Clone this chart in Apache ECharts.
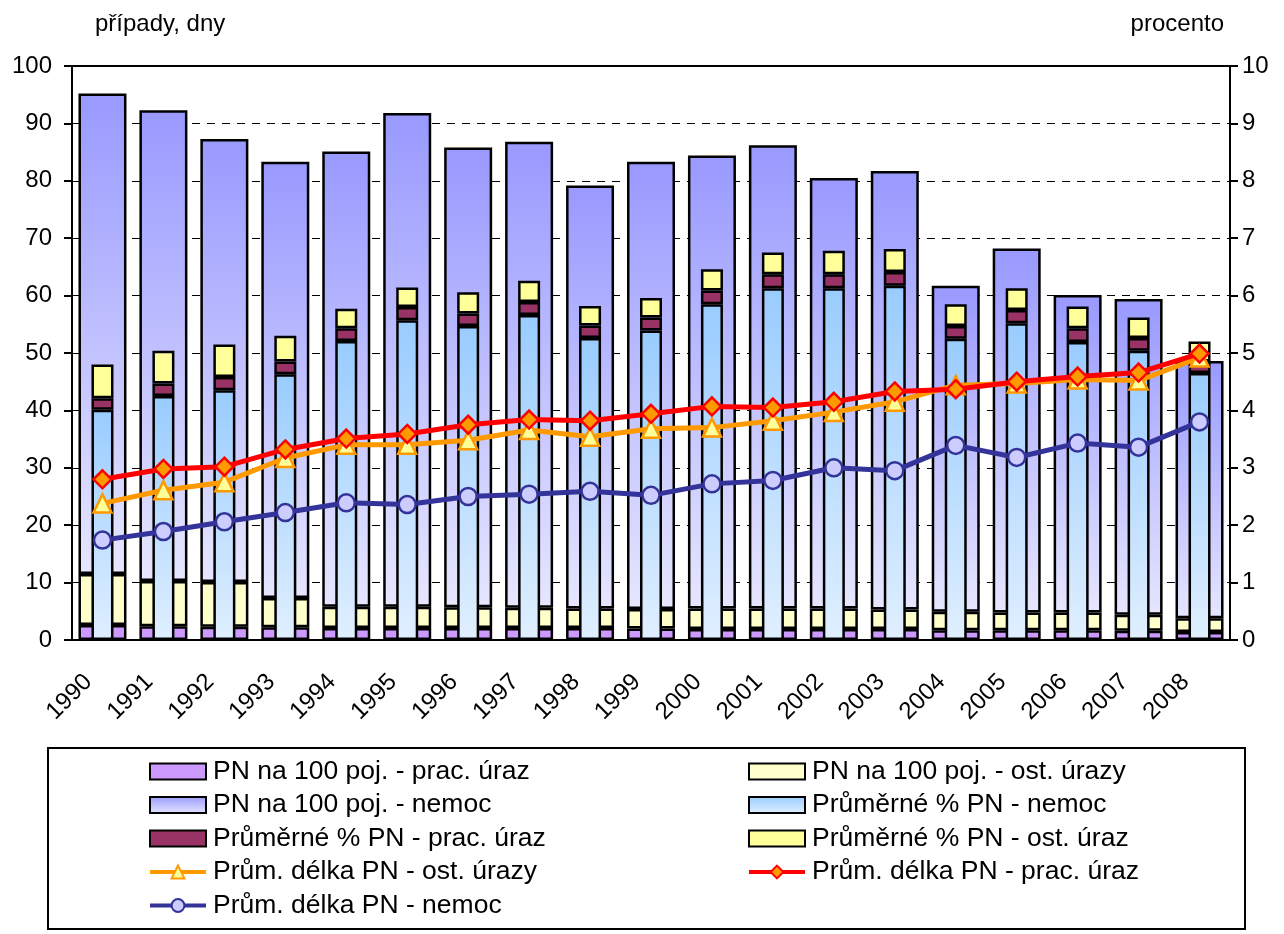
<!DOCTYPE html>
<html>
<head>
<meta charset="utf-8">
<script src="https://cdn.jsdelivr.net/npm/echarts@6/dist/echarts.min.js"></script>
<style>
html,body{margin:0;padding:0;background:#fff;}
#c{width:1284px;height:934px;}
</style>
</head>
<body>
<div id="c"></div>
<script>
// ---- data ----
const years = ['1990','1991','1992','1993','1994','1995','1996','1997','1998','1999','2000','2001','2002','2003','2004','2005','2006','2007','2008'];
// PN na 100 pojištěnců (left axis, stacked segments)
const pnPracUraz = [2.6,2.4,2.3,2.2,2.1,2.1,2.1,2.1,2.1,2.0,1.9,1.9,1.9,1.9,1.7,1.7,1.7,1.6,1.4];
const pnOstUrazy = [8.9,7.9,7.8,5.1,3.7,3.7,3.6,3.5,3.4,3.4,3.6,3.6,3.6,3.4,3.2,3.1,3.1,2.8,2.4];
const pnNemoc    = [83.7,82.0,77.2,76.0,79.3,86.0,80.1,81.2,73.7,77.9,78.9,80.7,75.0,76.4,56.8,63.4,55.3,55.0,44.8];
// Průměrné % PN (right axis, stacked segments)
const pctNemoc    = [4.01,4.25,4.35,4.63,5.21,5.57,5.47,5.66,5.26,5.39,5.85,6.13,6.13,6.17,5.25,5.52,5.19,5.04,4.65];
const pctPracUraz = [0.20,0.22,0.23,0.22,0.22,0.23,0.22,0.23,0.22,0.23,0.24,0.24,0.24,0.24,0.22,0.23,0.24,0.22,0.20];
const pctOstUraz  = [0.59,0.57,0.57,0.45,0.34,0.34,0.37,0.37,0.34,0.34,0.37,0.38,0.41,0.40,0.38,0.38,0.38,0.36,0.35];
// Průměrná délka PN (left axis, days)
const delkaOstUrazy  = [23.8,26.1,27.5,31.7,34.0,34.0,34.8,36.6,35.4,36.8,37.0,38.2,39.7,41.5,44.4,44.7,45.4,45.2,49.2];
const delkaPracUraz  = [28.0,29.8,30.2,33.2,35.1,35.9,37.5,38.4,38.2,39.4,40.7,40.5,41.5,43.3,43.7,45.0,45.9,46.6,49.9];
const delkaNemoc     = [17.4,18.9,20.6,22.2,23.9,23.6,25.0,25.4,25.9,25.2,27.2,27.8,30.0,29.5,33.9,31.8,34.3,33.6,38.0];
const leftTicks = {min:0, max:100, interval:10};
const rightTicks = {min:0, max:10, interval:1};

const FONT = 'Liberation Sans, Arial, sans-serif';
const chart = echarts.init(document.getElementById('c'), null, {renderer:'canvas'});
const grad = (a,b) => new echarts.graphic.LinearGradient(0,0,0,1,[{offset:0,color:a},{offset:1,color:b}]);
const barBorder = {borderColor:'#000', borderWidth:2.5};

const N = {
  s1:'PN na 100 poj. - prac. úraz', s2:'PN na 100 poj. - ost. úrazy', s3:'PN na 100 poj. - nemoc',
  s4:'Průměrné % PN - nemoc', s5:'Průměrné % PN - prac. úraz', s6:'Průměrné % PN - ost. úraz',
  s7:'Prům. délka PN - ost. úrazy', s8:'Prům. délka PN - prac. úraz', s9:'Prům. délka PN - nemoc'
};
const barItem = n => ({name:n, icon:'rect'});

const legendBase = {
  orient:'vertical', itemWidth:56, itemHeight:16, itemGap:6.5, padding:0,
  textStyle:{fontFamily:FONT, fontSize:26.5, color:'#000', lineHeight:26, padding:[0,0,0,2]},
  lineStyle:{width:4},
  selectedMode:false, top:758
};

chart.setOption({
  animation:false,
  backgroundColor:'#fff',
  textStyle:{fontFamily:FONT},
  grid:{left:72, right:54, top:66, bottom:294, show:true, borderColor:'#000', borderWidth:2, containLabel:false},
  graphic:[
    {type:'text', left:95, top:12, style:{text:'případy, dny', font:'24px '+FONT, fill:'#000'}},
    {type:'text', right:60, top:12, style:{text:'procento', font:'24px '+FONT, fill:'#000'}},
    {type:'rect', shape:{x:48, y:748, width:1197, height:181}, style:{fill:'none', stroke:'#000', lineWidth:2}, z:-1}
  ],
  legend:[
    Object.assign({}, legendBase, {left:148, data:[barItem(N.s1),barItem(N.s3),barItem(N.s5),N.s7,N.s9]}),
    Object.assign({}, legendBase, {left:747, data:[barItem(N.s2),barItem(N.s4),barItem(N.s6),N.s8]})
  ],
  xAxis:[
    {type:'category', data:years, gridIndex:0,
     axisLine:{lineStyle:{color:'#000', width:2}},
     axisTick:{length:8, lineStyle:{color:'#000', width:2}},
     axisLabel:{interval:0, rotate:45, fontSize:24, color:'#000', fontFamily:FONT, margin:24, padding:[0,20,0,0]}},
    {type:'category', data:years, gridIndex:0, show:false}
  ],
  yAxis:[
    {type:'value', min:leftTicks.min, max:leftTicks.max, interval:leftTicks.interval,
     axisLine:{show:true, lineStyle:{color:'#000', width:2}},
     axisTick:{show:true, length:8, lineStyle:{color:'#000', width:2}},
     axisLabel:{fontSize:24, color:'#000', fontFamily:FONT, margin:20},
     splitLine:{show:true, lineStyle:{color:'#000', width:1, type:[8,7]}}},
    {type:'value', min:rightTicks.min, max:rightTicks.max, interval:rightTicks.interval, position:'right',
     axisLine:{show:true, lineStyle:{color:'#000', width:2}},
     axisTick:{show:true, length:8, lineStyle:{color:'#000', width:2}},
     axisLabel:{fontSize:24, color:'#000', fontFamily:FONT, margin:12},
     splitLine:{show:false}}
  ],
  series:[
    {name:N.s1, type:'bar', stack:'pn', xAxisIndex:0, yAxisIndex:0, barWidth:48, z:2, data:pnPracUraz,
     itemStyle:Object.assign({color:'#CC99FF'}, barBorder)},
    {name:N.s2, type:'bar', stack:'pn', xAxisIndex:0, yAxisIndex:0, barWidth:48, z:2, data:pnOstUrazy,
     itemStyle:Object.assign({color:'#FFFFCC'}, barBorder)},
    {name:N.s3, type:'bar', stack:'pn', xAxisIndex:0, yAxisIndex:0, barWidth:48, z:2, data:pnNemoc,
     itemStyle:Object.assign({color:grad('#9999FF','#E6E6FF')}, barBorder)},
    {name:N.s4, type:'bar', stack:'pct', xAxisIndex:1, yAxisIndex:1, barWidth:22, z:3, data:pctNemoc,
     itemStyle:Object.assign({color:grad('#99CCFF','#E0EFFF')}, barBorder)},
    {name:N.s5, type:'bar', stack:'pct', xAxisIndex:1, yAxisIndex:1, barWidth:22, z:3, data:pctPracUraz,
     itemStyle:Object.assign({color:'#993366'}, barBorder)},
    {name:N.s6, type:'bar', stack:'pct', xAxisIndex:1, yAxisIndex:1, barWidth:22, z:3, data:pctOstUraz,
     itemStyle:Object.assign({color:'#FFFF99'}, barBorder)},
    {name:N.s7, type:'line', xAxisIndex:0, yAxisIndex:0, z:5, data:delkaOstUrazy,
     symbol:'triangle', symbolSize:18, showAllSymbol:true,
     lineStyle:{color:'#FF9900', width:5},
     itemStyle:{color:'#FFFF99', borderColor:'#FF9900', borderWidth:2.5}},
    {name:N.s8, type:'line', xAxisIndex:0, yAxisIndex:0, z:6, data:delkaPracUraz,
     symbol:'diamond', symbolSize:18, showAllSymbol:true,
     lineStyle:{color:'#FF0000', width:5},
     itemStyle:{color:'#FF9900', borderColor:'#FF0000', borderWidth:2.5}},
    {name:N.s9, type:'line', xAxisIndex:0, yAxisIndex:0, z:5, data:delkaNemoc,
     symbol:'circle', symbolSize:17, showAllSymbol:true,
     lineStyle:{color:'#333399', width:5},
     itemStyle:{color:'#CCCCFF', borderColor:'#333399', borderWidth:2.5}}
  ]
});
</script>
</body>
</html>
